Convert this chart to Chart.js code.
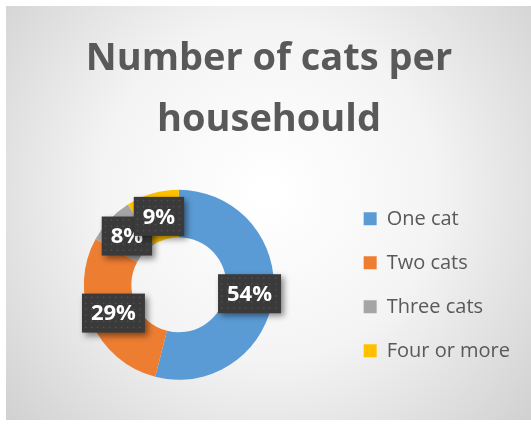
<!DOCTYPE html>
<html>
<head>
<meta charset="utf-8">
<script src="https://cdn.jsdelivr.net/npm/chart.js@4.4.1/dist/chart.umd.min.js"></script>
<style>
  html, body { margin: 0; padding: 0; background: #ffffff; }
  #wrap { position: absolute; left: 6px; top: 6px; width: 525px; height: 414px; }
</style>
</head>
<body>
<div id="wrap"><canvas id="catsChart"></canvas></div>
<script>
// chart data
const categories = ['One cat', 'Two cats', 'Three cats', 'Four or more'];
const shares = [54, 29, 8, 9];
const sliceColors = ['#5b9bd5', '#ed7d31', '#a5a5a5', '#ffc000'];
const titleLines = ['Number of cats per', 'househould'];

// soft radial background like the office slide
const backgroundPlugin = {
    id: 'bgGradient',
    beforeDraw(chart) {
        const ctx = chart.ctx;
        const w = chart.width, h = chart.height;
        const g = ctx.createRadialGradient(w * 0.5, h * 0.45, 10, w * 0.5, h * 0.45, w * 0.68);
        g.addColorStop(0, '#ffffff');
        g.addColorStop(0.45, '#f4f4f4');
        g.addColorStop(1, '#cfcfcf');
        ctx.save();
        ctx.fillStyle = g;
        ctx.fillRect(0, 0, w, h);
        ctx.restore();
    }
};

// dark dotted boxes with percentage text on each slice
const labelBoxPlugin = {
    id: 'labelBoxes',
    afterDatasetsDraw(chart) {
        const ctx = chart.ctx;
        const meta = chart.getDatasetMeta(0);
        ctx.save();
        ctx.font = 'bold 22px "Open Sans"';
        ctx.textAlign = 'center';
        ctx.textBaseline = 'middle';
        meta.data.forEach((arc, i) => {
            const pos = arc.tooltipPosition();
            const text = shares[i] + '%';
            const bw = ctx.measureText(text).width + 18;
            const bh = 39;
            const x = pos.x - bw / 2, y = pos.y - bh / 2;

            ctx.save();
            ctx.shadowColor = 'rgba(0,0,0,0.45)';
            ctx.shadowBlur = 6;
            ctx.shadowOffsetX = 3;
            ctx.shadowOffsetY = 3;
            ctx.fillStyle = '#3a3a3a';
            ctx.fillRect(x, y, bw, bh);
            ctx.restore();

            // dot pattern
            ctx.fillStyle = '#505050';
            for (let dy = 3; dy < bh; dy += 6) {
                for (let dx = 3; dx < bw; dx += 6) {
                    ctx.fillRect(x + dx, y + dy, 1.5, 1.5);
                }
            }

            ctx.fillStyle = '#ffffff';
            ctx.fillText(text, pos.x, pos.y + 1);
        });
        ctx.restore();
    }
};

document.addEventListener('DOMContentLoaded', function() {
    const ctx = document.getElementById('catsChart').getContext('2d');

    new Chart(ctx, {
        type: 'doughnut',
        data: {
            labels: categories,
            datasets: [{
                data: shares,
                backgroundColor: sliceColors,
                borderWidth: 0,
                radius: 95
            }]
        },
        options: {
            responsive: true,
            maintainAspectRatio: false,
            animation: false,
            cutout: '50%',
            layout: {
                padding: { top: 0, bottom: 25, left: 12, right: 11 }
            },
            plugins: {
                title: {
                    display: true,
                    text: titleLines,
                    color: '#595959',
                    font: { family: '"Open Sans"', size: 38, weight: 'bold', lineHeight: 1.6 },
                    padding: { top: 23, bottom: 24 }
                },
                legend: {
                    position: 'right',
                    fullSize: false,
                    labels: {
                        color: '#595959',
                        font: { family: '"Open Sans"', size: 20 },
                        boxWidth: 13,
                        boxHeight: 13,
                        padding: 24
                    }
                },
                tooltip: { enabled: false }
            }
        },
        plugins: [backgroundPlugin, labelBoxPlugin]
    });
});
</script>
</body>
</html>
